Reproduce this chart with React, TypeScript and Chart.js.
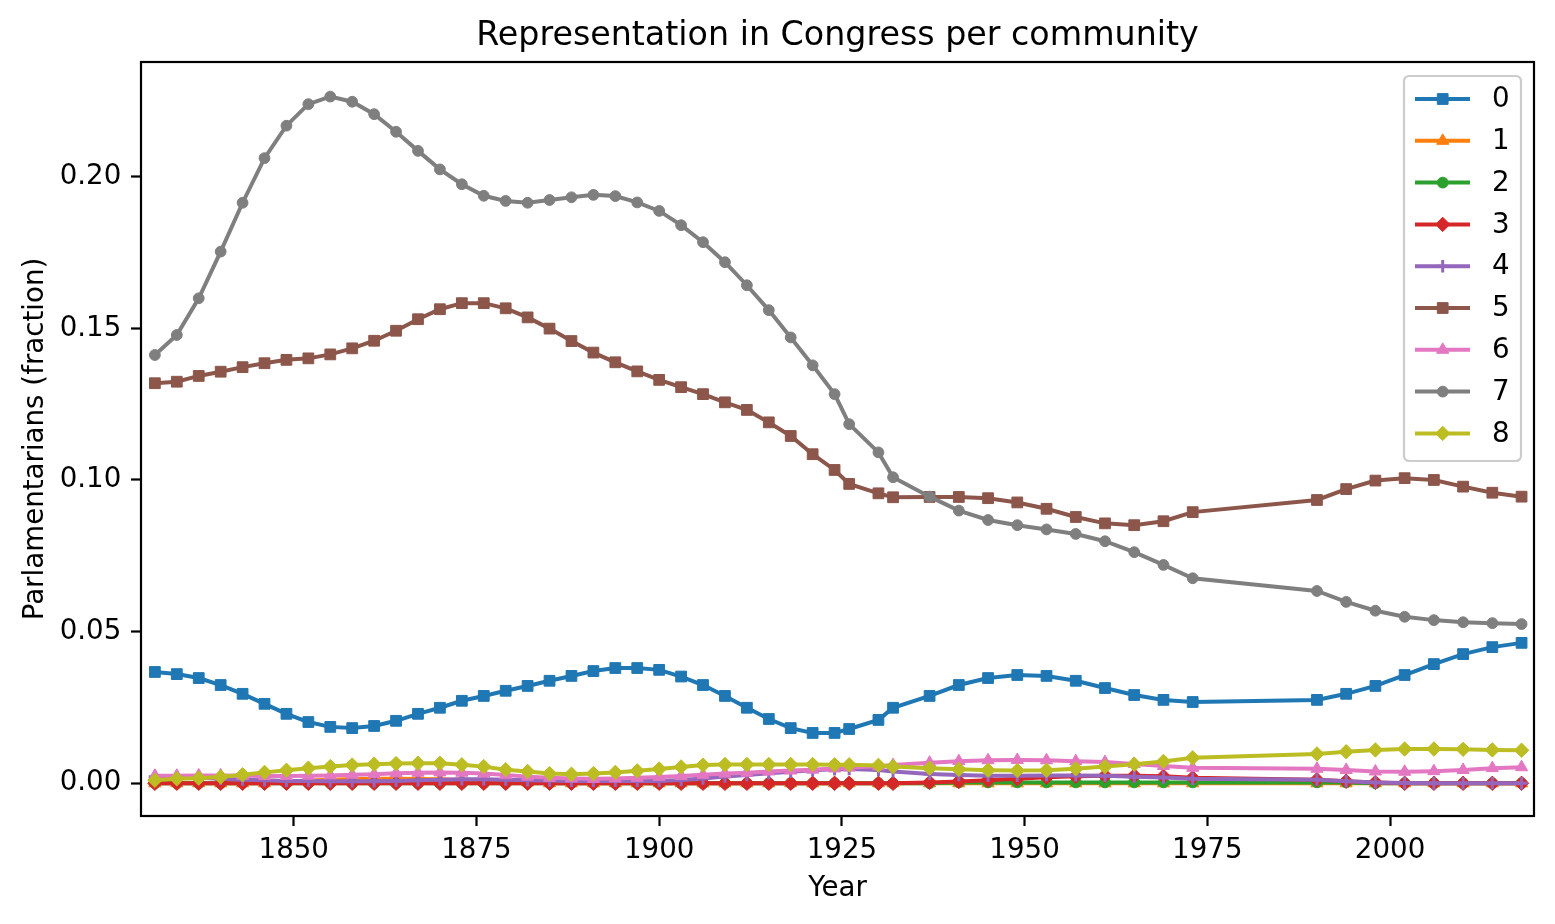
import React, { useEffect, useRef } from 'react';
import { Chart, registerables } from 'chart.js';
import { drawPoint } from 'chart.js/helpers';

Chart.register(...registerables);

// ---------------- data ----------------
const years = [
  1831, 1834, 1837, 1840, 1843, 1846, 1849, 1852, 1855, 1858, 1861, 1864, 1867, 1870, 1873, 1876,
  1879, 1882, 1885, 1888, 1891, 1894, 1897, 1900, 1903, 1906, 1909, 1912, 1915, 1918, 1921, 1924,
  1926, 1930, 1932, 1937, 1941,
  1945, 1949, 1953, 1957, 1961, 1965, 1969, 1973,
  1990, 1994, 1998, 2002, 2006, 2010, 2014, 2018,
];

const community0 = [
  0.0367, 0.0360, 0.0347, 0.0324, 0.0295, 0.0262, 0.0229, 0.0202, 0.0186, 0.0182,
  0.0189, 0.0206, 0.0229, 0.0249, 0.0272, 0.0288, 0.0305, 0.0321, 0.0338, 0.0354,
  0.0370, 0.0380, 0.0380, 0.0374, 0.0352, 0.0324, 0.0288, 0.0249, 0.0212, 0.0182,
  0.0166, 0.0166,
  0.0179, 0.0209, 0.0249, 0.0288, 0.0324,
  0.0347, 0.0357, 0.0354, 0.0338, 0.0314, 0.0291, 0.0275, 0.0268,
  0.0275, 0.0295, 0.0321, 0.0357, 0.0393, 0.0426, 0.0449, 0.0463,
];

const community1 = [
  0, 0, 0, 0, 0, 0, 0.0004, 0.0009, 0.0012, 0.0014,
  0.0015, 0.0015, 0.0014, 0.0013, 0.0011, 0.0009, 0.0006, 0.0003, 0, 0,
  0, 0, 0, 0, 0, 0, 0, 0, 0, 0,
  0, 0,
  0, 0, 0, 0, 0,
  0, 0, 0, 0, 0, 0, 0, 0,
  0, 0, 0, 0, 0, 0, 0, 0,
];

const community2 = [
  0, 0, 0, 0, 0, 0, 0, 0, 0, 0,
  0, 0, 0, 0, 0, 0, 0, 0, 0, 0,
  0, 0, 0, 0, 0, 0, 0, 0, 0, 0,
  0, 0,
  0, 0, 0, 0, 0.0003,
  0.0003, 0.0003, 0.0003, 0.0003, 0.0003, 0.0003, 0.0003, 0.0003,
  0.0003, 0.0003, 0, 0, 0, 0, 0, 0,
];

const community3 = [
  0, 0, 0, 0, 0, 0, 0, 0, 0, 0,
  0, 0, 0, 0, 0, 0, 0, 0, 0, 0,
  0, 0, 0, 0, 0, 0, 0, 0, 0, 0,
  0, 0,
  0, 0, 0, 0.0003, 0.0006,
  0.0010, 0.0015, 0.0020, 0.0023, 0.0025, 0.0025, 0.0023, 0.0018,
  0.0012, 0.0007, 0.0003, 0, 0, 0, 0, 0,
];

const community4 = [
  0.0022, 0.0020, 0.0018, 0.0015, 0.0012, 0.0010, 0.0008, 0.0008, 0.0007, 0.0007,
  0.0007, 0.0008, 0.0010, 0.0012, 0.0013, 0.0013, 0.0012, 0.0010, 0.0009, 0.0008,
  0.0008, 0.0008, 0.0008, 0.0008, 0.0011, 0.0016, 0.0022, 0.0027, 0.0033, 0.0038,
  0.0043, 0.0046,
  0.0047, 0.0044, 0.0039, 0.0031, 0.0027,
  0.0025, 0.0025, 0.0026, 0.0026, 0.0025, 0.0022, 0.0019, 0.0015,
  0.0012, 0.0007, 0.0003, 0.0001, 0, 0, 0, 0,
];

const community5 = [
  0.1319, 0.1324, 0.1343, 0.1357, 0.1372, 0.1385, 0.1396, 0.1401, 0.1414, 0.1434,
  0.1459, 0.1492, 0.1530, 0.1563, 0.1583, 0.1583, 0.1566, 0.1536, 0.1499, 0.1458,
  0.1420, 0.1388, 0.1358, 0.1330, 0.1306, 0.1283, 0.1256, 0.1231, 0.1190, 0.1145,
  0.1085, 0.1033,
  0.0987, 0.0956, 0.0943, 0.0944, 0.0944,
  0.0940, 0.0926, 0.0905, 0.0878, 0.0857, 0.0851, 0.0864, 0.0894,
  0.0934, 0.0970, 0.0998, 0.1006, 0.1000, 0.0978, 0.0958, 0.0945,
];

const community6 = [
  0.0025, 0.0025, 0.0026, 0.0026, 0.0025, 0.0024, 0.0024, 0.0025, 0.0026, 0.0028,
  0.0030, 0.0033, 0.0035, 0.0036, 0.0035, 0.0032, 0.0027, 0.0022, 0.0018, 0.0016,
  0.0015, 0.0016, 0.0018, 0.0021, 0.0024, 0.0028, 0.0032, 0.0035, 0.0039, 0.0042,
  0.0045, 0.0049,
  0.0052, 0.0056, 0.0060, 0.0068, 0.0073,
  0.0076, 0.0077, 0.0076, 0.0073, 0.0070, 0.0064, 0.0057, 0.0051,
  0.0048, 0.0044, 0.0039, 0.0038, 0.0040, 0.0044, 0.0050, 0.0053,
];

const community7 = [
  0.1412, 0.1478, 0.1599, 0.1753, 0.1914, 0.2061, 0.2168, 0.2239, 0.2264, 0.2247,
  0.2206, 0.2148, 0.2085, 0.2024, 0.1975, 0.1937, 0.1920, 0.1914, 0.1923, 0.1932,
  0.1940, 0.1936, 0.1915, 0.1887, 0.1840, 0.1784, 0.1718, 0.1642, 0.1560, 0.1470,
  0.1378, 0.1283,
  0.1184, 0.1091, 0.1009, 0.0945, 0.0899,
  0.0868, 0.0851, 0.0837, 0.0822, 0.0798, 0.0762, 0.0720, 0.0676,
  0.0634, 0.0598, 0.0569, 0.0549, 0.0538, 0.0531, 0.0528, 0.0525,
];

const community8 = [
  0.0010, 0.0015, 0.0017, 0.0021, 0.0028, 0.0036, 0.0043, 0.0050, 0.0055, 0.0060,
  0.0063, 0.0065, 0.0066, 0.0066, 0.0061, 0.0055, 0.0045, 0.0039, 0.0032, 0.0030,
  0.0032, 0.0036, 0.0041, 0.0047, 0.0054, 0.0060, 0.0062, 0.0062, 0.0062, 0.0062,
  0.0062, 0.0061,
  0.0061, 0.0059, 0.0055, 0.0050, 0.0046,
  0.0043, 0.0042, 0.0043, 0.0048, 0.0055, 0.0063, 0.0072, 0.0084,
  0.0097, 0.0104, 0.0110, 0.0113, 0.0113, 0.0112, 0.0110, 0.0109,
];

const seriesLabels = ['0', '1', '2', '3', '4', '5', '6', '7', '8'];
const seriesValues = [
  community0, community1, community2, community3, community4,
  community5, community6, community7, community8,
];

const xTickValues = [1850, 1875, 1900, 1925, 1950, 1975, 2000];
const yTickValues = [0, 0.05, 0.1, 0.15, 0.2];

const TITLE = 'Representation in Congress per community';
const X_LABEL = 'Year';
const Y_LABEL = 'Parlamentarians (fraction)';

// ---------------- styles ----------------
const COLORS = [
  '#1f77b4', '#ff7f0e', '#2ca02c', '#d62728', '#9467bd',
  '#8c564b', '#e377c2', '#7f7f7f', '#bcbd22',
];
const MARKERS = ['rect', 'triangle', 'circle', 'rectRot', 'cross', 'rect', 'triangle', 'circle', 'rectRot'];
const MARKER_RADIUS = [7.6, 7, 5.4, 7.2, 6.2, 7.6, 7, 5.4, 7.2];
const MARKER_BORDER = [1, 1, 1, 1, 3, 1, 1, 1, 1];
const FONT = '"DejaVu Sans", "Liberation Sans", sans-serif';
const TICK_PX = 27.7;
const TITLE_PX = 33.3;
const LINE_W = 4;

const W = 1555;
const H = 924;
const AREA = { left: 141, right: 1534, top: 62, bottom: 816 };
const X_RANGE = { min: 1829.1, max: 2019.7 };
const Y_RANGE = { min: -0.01078, max: 0.2378 };

const decorPlugin = {
  id: 'mplDecor',
  afterDraw(chart: any) {
    const { ctx, chartArea: a } = chart;
    ctx.save();
    // frame
    ctx.strokeStyle = '#000';
    ctx.lineWidth = 2.2;
    ctx.strokeRect(a.left, a.top, a.right - a.left, a.bottom - a.top);

    // title
    ctx.fillStyle = '#000';
    ctx.font = `${TITLE_PX}px ${FONT}`;
    ctx.textAlign = 'center';
    ctx.textBaseline = 'alphabetic';
    ctx.fillText(TITLE, (a.left + a.right) / 2, a.top - 16.7);

    // x label
    ctx.font = `${TICK_PX}px ${FONT}`;
    ctx.fillText(X_LABEL, (a.left + a.right) / 2, 896);

    // y label
    ctx.save();
    ctx.translate(43, (a.top + a.bottom) / 2);
    ctx.rotate(-Math.PI / 2);
    ctx.textAlign = 'center';
    ctx.textBaseline = 'alphabetic';
    ctx.fillText(Y_LABEL, 0, 0);
    ctx.restore();

    // legend
    const lx = 1404, ly = 76, lw = 117, lh = 385, r = 5.5;
    ctx.beginPath();
    ctx.moveTo(lx + r, ly);
    ctx.lineTo(lx + lw - r, ly);
    ctx.quadraticCurveTo(lx + lw, ly, lx + lw, ly + r);
    ctx.lineTo(lx + lw, ly + lh - r);
    ctx.quadraticCurveTo(lx + lw, ly + lh, lx + lw - r, ly + lh);
    ctx.lineTo(lx + r, ly + lh);
    ctx.quadraticCurveTo(lx, ly + lh, lx, ly + lh - r);
    ctx.lineTo(lx, ly + r);
    ctx.quadraticCurveTo(lx, ly, lx + r, ly);
    ctx.closePath();
    ctx.fillStyle = 'rgba(255,255,255,0.8)';
    ctx.fill();
    ctx.strokeStyle = '#cccccc';
    ctx.lineWidth = 2.2;
    ctx.stroke();

    chart.data.datasets.forEach((ds: any, i: number) => {
      const cy = 99 + 41.8 * i;
      ctx.strokeStyle = ds.borderColor;
      ctx.lineWidth = LINE_W;
      ctx.beginPath();
      ctx.moveTo(1415, cy);
      ctx.lineTo(1470, cy);
      ctx.stroke();
      ctx.fillStyle = ds.pointBackgroundColor;
      ctx.strokeStyle = ds.pointBorderColor;
      ctx.lineWidth = ds.pointBorderWidth;
      drawPoint(ctx, {
        pointStyle: ds.pointStyle,
        rotation: 0,
        radius: ds.pointRadius,
        borderWidth: ds.pointBorderWidth,
      } as any, 1442.7, cy);
      ctx.fillStyle = '#000';
      ctx.font = `${TICK_PX}px ${FONT}`;
      ctx.textAlign = 'left';
      ctx.textBaseline = 'middle';
      ctx.fillText(ds.label, 1492, cy + 1);
    });
    ctx.restore();
  },
};

export default function App() {
  const ref = useRef<HTMLCanvasElement | null>(null);

  useEffect(() => {
    document.body.style.margin = '0';
    const canvas = ref.current;
    if (!canvas) return;

    const datasets = seriesValues.map((vals, i) => ({
      label: seriesLabels[i],
      data: years.map((yr, j) => ({ x: yr, y: vals[j] })),
      borderColor: COLORS[i],
      backgroundColor: COLORS[i],
      pointBackgroundColor: COLORS[i],
      pointBorderColor: COLORS[i],
      pointStyle: MARKERS[i],
      pointRadius: MARKER_RADIUS[i],
      pointBorderWidth: MARKER_BORDER[i],
      pointHoverRadius: MARKER_RADIUS[i],
      borderWidth: LINE_W,
      tension: 0,
      fill: false,
      order: seriesValues.length - 1 - i,
    }));

    const chart = new Chart(canvas, {
      type: 'line',
      data: { datasets },
      options: {
        animation: false,
        responsive: true,
        maintainAspectRatio: false,
        layout: {
          padding: { left: 0, right: W - AREA.right, top: AREA.top, bottom: 0 },
        },
        plugins: {
          legend: { display: false },
          title: { display: false },
          tooltip: { enabled: false },
        },
        scales: {
          x: {
            type: 'linear',
            min: X_RANGE.min,
            max: X_RANGE.max,
            afterFit: (s: any) => { s.height = H - AREA.bottom; },
            afterBuildTicks: (s: any) => { s.ticks = xTickValues.map((v) => ({ value: v })); },
            grid: {
              drawOnChartArea: false,
              drawTicks: true,
              tickLength: 10,
              tickColor: '#000',
              tickWidth: 2.2,
            },
            border: { display: false },
            ticks: {
              color: '#000',
              font: { family: FONT, size: TICK_PX },
              padding: 8,
              maxRotation: 0,
              autoSkip: false,
              callback: (v: any) => String(Math.round(Number(v))),
            },
          },
          y: {
            type: 'linear',
            min: Y_RANGE.min,
            max: Y_RANGE.max,
            afterFit: (s: any) => { s.width = AREA.left; },
            afterBuildTicks: (s: any) => { s.ticks = yTickValues.map((v) => ({ value: v })); },
            grid: {
              drawOnChartArea: false,
              drawTicks: true,
              tickLength: 10,
              tickColor: '#000',
              tickWidth: 2.2,
            },
            border: { display: false },
            ticks: {
              color: '#000',
              font: { family: FONT, size: TICK_PX },
              padding: 9.7,
              autoSkip: false,
              callback: (v: any) => Number(v).toFixed(2),
            },
          },
        },
      },
      plugins: [decorPlugin],
    });

    return () => chart.destroy();
  }, []);

  return (
    <div style={{ position: 'fixed', left: 0, top: 0, width: W, height: H, background: '#fff' }}>
      <canvas ref={ref} />
    </div>
  );
}
